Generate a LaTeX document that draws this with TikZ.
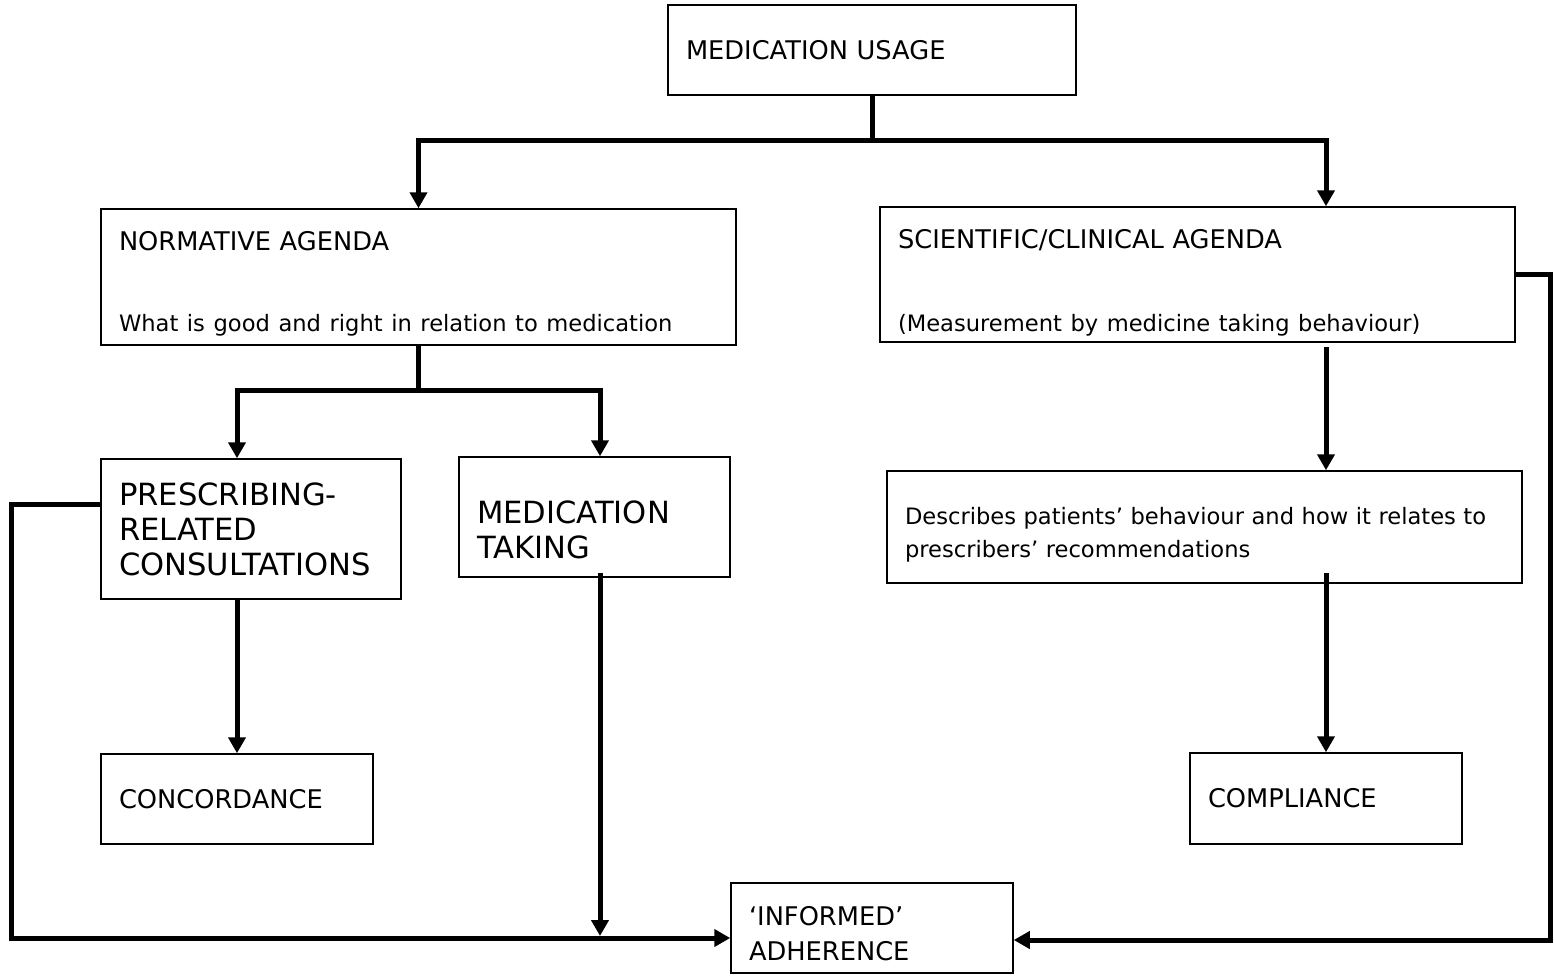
\documentclass[tikz,border=0pt]{standalone}
\usepackage{fontspec}
\setmainfont{DejaVu Sans}
\usetikzlibrary{arrows.meta}

\begin{document}
\begin{tikzpicture}[x=0.5pt, y=-0.5pt,
  box/.style={draw, line width=0.75pt, align=left, inner xsep=9pt, inner ysep=0pt},
  reg/.style={font=\fontsize{12.85}{17}\selectfont},
  big/.style={font=\fontsize{15.3}{17.5}\selectfont},
  small/.style={font=\fontsize{11.3}{16.5}\selectfont},
  conn/.style={line width=2.5pt},
  arr/.style={conn, -{Triangle[length=8pt, width=8.5pt]}}]
   \useasboundingbox (0,0) rectangle (1554,976);
   % boxes
   \node[box, reg, text width=186pt, minimum height=45pt] (usage) at (872,50) {MEDICATION USAGE};
   \node[box, reg, text width=299.5pt, minimum height=68pt] (norm) at (418.5,277)
     {\rule{0pt}{16.4pt}NORMATIVE AGENDA\\[23.5pt]\fontsize{11.3}{17}\selectfont What is good and right in relation to medication};
   \node[box, reg, text width=299.5pt, minimum height=67.5pt] (sci) at (1197.5,274.5)
     {\rule{0pt}{17.4pt}SCIENTIFIC/CLINICAL AGENDA\\[24.5pt]\fontsize{11.3}{17}\selectfont (Measurement by medicine taking behaviour)};
   \node[box, big, text width=132pt, minimum height=70pt] (presc) at (251,529) {PRESCRIBING-\\RELATED\\CONSULTATIONS};
   \node[box, big, text width=117.5pt, minimum height=60pt] (taking) at (594.5,517) {\rule{0pt}{24.2pt}MEDICATION\\TAKING};
   \node[box, small, text width=299.5pt, minimum height=56pt] (desc) at (1204.5,527)
     {\rule{0pt}{16.6pt}Describes patients’ behaviour and how it relates to\\prescribers’ recommendations};
   \node[box, reg, text width=118pt, minimum height=45pt] (conc) at (237,799) {CONCORDANCE};
   \node[box, reg, text width=118pt, minimum height=45.5pt] (compl) at (1326,798.5) {COMPLIANCE};
   \node[box, font=\fontsize{12.85}{17.5}\selectfont, text width=123pt, minimum height=45pt] (inf) at (872,928)
     {\rule{0pt}{15.4pt}‘INFORMED’\\ADHERENCE};
   % branch points
   \coordinate (split1) at (872,140);
   \coordinate (split2) at (418.5,390);
   \coordinate (meet) at (600,938);
   \coordinate (lcorner) at (11,938);
   \coordinate (rcorner) at (1550,940);
   % connectors
   \draw[conn] (usage.south) -- (split1);
   \draw[arr] (split1) -| (norm.north);
   \draw[arr] (split1) -| (sci.north -| compl.north);
   \draw[conn] (norm.south) -- (split2);
   \draw[arr] (split2) -| (presc.north -| conc.north);
   \draw[arr] (split2) -| (taking.north -| meet);
   \draw[arr, shorten <=2pt] (sci.south -| compl.north) -- (desc.north -| compl.north);
   \draw[arr, shorten <=-5.5pt] (desc.south -| compl.north) -- (compl.north);
   \draw[arr] (presc.south -| conc.north) -- (conc.north);
   \draw[arr, shorten <=-2.5pt] (taking.south -| meet) -- ([yshift=1pt]meet);
   \draw[arr] ([yshift=12.5pt]presc.west) -| (lcorner) -- ([yshift=-5pt]inf.west);
   \draw[arr] (sci.east) -| (rcorner) -- ([yshift=-6pt]inf.east);
\end{tikzpicture}
\end{document}
